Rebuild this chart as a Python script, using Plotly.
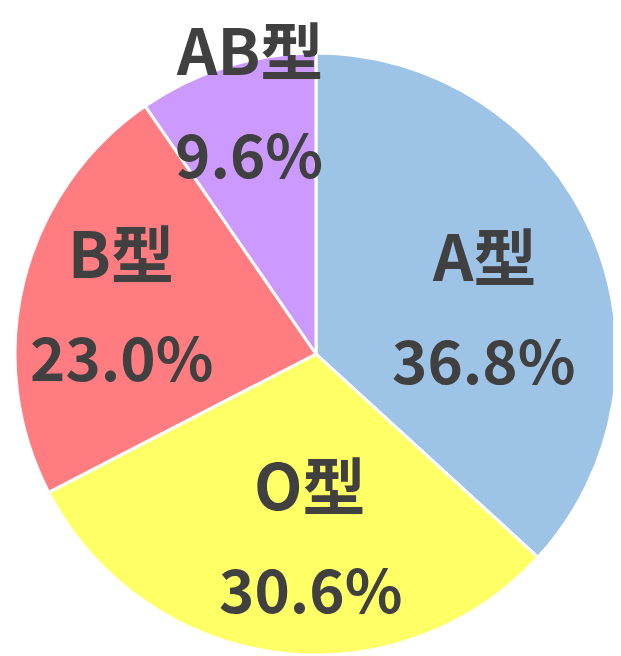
import math
import plotly.graph_objects as go

# ---- data ----
blood_types = ["A型", "O型", "B型", "AB型"]
percentages = [36.8, 30.6, 23.0, 9.6]
slice_colors = ["#9DC3E6", "#FFFF66", "#FF7C80", "#CC99FF"]

# ---- layout / style ----
W, H = 621, 656
OFF = 8  # default page body margin
dom_x = [(15 - OFF) / W, (617 - OFF) / W]
dom_y = [1 - (655 - OFF) / H, 1 - (53 - OFF) / H]
label_radius_frac = [0.58, 0.60, 0.67, 0.875]   # radial position of text per slice
label_angle_nudge = [7.5, -5.7, 0.9, 2.6]         # degrees
line_gap = 52
text_color = "#404040"
font_family = "Noto Sans CJK JP"
label_size = 63
pct_size = 60

fig = go.Figure(
    go.Pie(
        labels=blood_types,
        values=percentages,
        sort=False,
        direction="clockwise",
        rotation=0,
        marker=dict(colors=slice_colors, line=dict(color="white", width=3)),
        textinfo="none",
        hoverinfo="skip",
        domain=dict(x=dom_x, y=dom_y),
        showlegend=False,
    )
)

# compute label positions from slice geometry
cx = W * (dom_x[0] + dom_x[1]) / 2
cy = H * (1 - (dom_y[0] + dom_y[1]) / 2)
R = min(W * (dom_x[1] - dom_x[0]), H * (dom_y[1] - dom_y[0])) / 2
total = sum(percentages)
cum = 0.0
annotations = []
for i, (lab, val) in enumerate(zip(blood_types, percentages)):
    mid = (cum + val / 2) / total * 360 + label_angle_nudge[i]
    cum += val
    th = math.radians(mid)
    r = R * label_radius_frac[i]
    px = cx + r * math.sin(th)
    py = cy - r * math.cos(th)
    xp = px / W
    yp = 1 - py / H
    for txt, shift, fs in ((lab, line_gap, label_size), (f"{val:.1f}%", -line_gap, pct_size)):
        annotations.append(
            dict(
                x=xp, y=yp, xref="paper", yref="paper",
                text=txt, showarrow=False, yshift=shift,
                xanchor="center", yanchor="middle",
                font=dict(family=font_family, size=fs, color=text_color, weight="bold"),
            )
        )

fig.update_layout(
    width=W, height=H,
    margin=dict(l=0, r=0, t=0, b=0),
    paper_bgcolor="white",
    plot_bgcolor="white",
    annotations=annotations,
)

fig.write_html("out.html")
